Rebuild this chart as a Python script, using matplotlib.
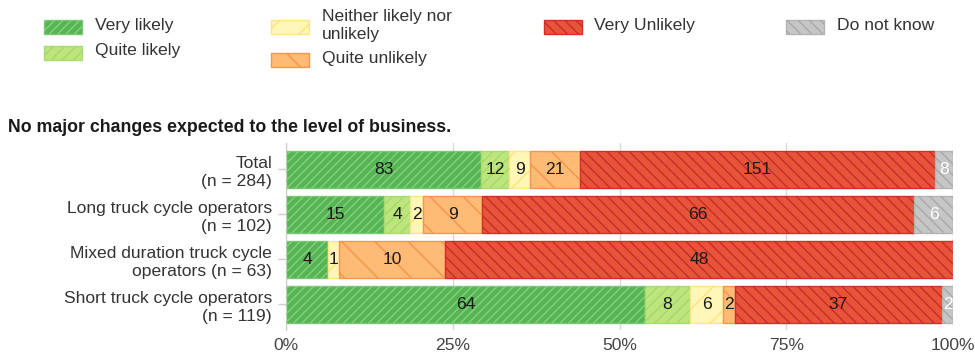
import matplotlib.pyplot as plt
from matplotlib.patches import Rectangle
import numpy as np

plt.rcParams['font.family'] = ['Liberation Sans', 'DejaVu Sans']
plt.rcParams['hatch.linewidth'] = 1.0

W, H = 975, 356

grupos = ['Total\n(n = 284)',
          'Long truck cycle operators\n(n = 102)',
          'Mixed duration truck cycle\noperators (n = 63)',
          'Short truck cycle operators\n(n = 119)']

respuestas = ['Very likely', 'Quite likely', 'Neither likely nor\nunlikely',
              'Quite unlikely', 'Very Unlikely', 'Do not know']

muy_probable = [83, 15, 4, 64]
bastante_probable = [12, 4, 0, 8]
ni_uno_ni_otro = [9, 2, 1, 6]
poco_probable = [21, 9, 10, 2]
muy_improbable = [151, 66, 48, 37]
no_sabe = [8, 6, 0, 2]

# relleno, borde, trama, patron, color de la etiqueta
estilos = [
    ('#55b552', '#79c775', '#86cf82', '////', '#1a1a1a'),
    ('#bde57e', '#a9dc6c', '#a5da6a', '///', '#1a1a1a'),
    ('#fff6b8', '#ffe58a', '#ffe27a', '/', '#1a1a1a'),
    ('#fdbb75', '#f99450', '#f8924a', '\\', '#1a1a1a'),
    ('#e8543a', '#d3302b', '#c92b29', '\\\\\\', '#1a1a1a'),
    ('#c6c6c6', '#b3b3b3', '#a9a9a9', '\\\\\\', '#ffffff'),
]

conteos = np.array([muy_probable, bastante_probable, ni_uno_ni_otro,
                    poco_probable, muy_improbable, no_sabe], dtype=float)
totales = conteos.sum(axis=0)
porcentajes = conteos / totales

TAM = 12.6

fig = plt.figure(figsize=(W / 100, H / 100), dpi=100)
ax = fig.add_axes([286 / W, 1 - 330 / H, (953.3 - 286) / W, (330 - 143) / H])

y = np.arange(len(grupos))
izquierda = np.zeros(len(grupos))
for i, (relleno, borde, trama, patron, color_txt) in enumerate(estilos):
    ancho = porcentajes[i]
    ax.barh(y, ancho, left=izquierda, height=0.82, color=relleno,
            edgecolor=borde, linewidth=1.0, zorder=2)
    ax.barh(y, ancho, left=izquierda, height=0.82, color='none',
            edgecolor=trama, hatch=patron, linewidth=0, zorder=3)
    for j in range(len(grupos)):
        if conteos[i, j] > 0:
            ax.text(izquierda[j] + ancho[j] / 2, y[j], f'{int(conteos[i, j])}',
                    ha='center', va='center', fontsize=TAM, color=color_txt,
                    zorder=4)
    izquierda += ancho

ax.set_xlim(0, 1)
ax.set_ylim(3.57, -0.585)
ax.set_yticks(y)
ax.set_yticklabels(grupos, fontsize=TAM, color='#333333', ha='right',
                   linespacing=1.25)
ax.set_xticks([0, 0.25, 0.5, 0.75, 1.0])
ax.set_xticklabels(['0%', '25%', '50%', '75%', '100%'], fontsize=TAM,
                   color='#444444')
ax.tick_params(axis='x', length=0, pad=6)
ax.tick_params(axis='y', length=6, color='#cccccc', width=1, pad=4)
ax.grid(axis='x', color='#d9d9d9', linewidth=1, zorder=0)
ax.set_axisbelow(True)
for lado in ['top', 'right', 'bottom']:
    ax.spines[lado].set_visible(False)
ax.spines['left'].set_color('#cccccc')

fig.text(8 / W, 1 - 128 / H, 'No major changes expected to the level of business.',
         fontsize=12.8, fontweight='bold', color='#1a1a1a', va='center', ha='left')

# leyenda dibujada a mano en coordenadas de figura
posiciones = [(44, 27), (44, 52.5), (271, 26.5), (271, 59.7), (543.5, 26.7), (786, 26.7)]
for (relleno, borde, trama, patron, _), nombre, (px, py) in zip(estilos, respuestas, posiciones):
    x0, y0 = px / W, 1 - (py + 7) / H
    w, h = 38 / W, 14 / H
    fig.add_artist(Rectangle((x0, y0), w, h, transform=fig.transFigure,
                             facecolor=relleno, edgecolor=borde, linewidth=1.0))
    fig.add_artist(Rectangle((x0, y0), w, h, transform=fig.transFigure,
                             facecolor='none', edgecolor=trama, hatch=patron,
                             linewidth=0))
    fig.text((px + 51) / W, 1 - (py - 1.5) / H, nombre, fontsize=TAM,
             color='#333333', va='center', ha='left', linespacing=1.25)

fig.savefig('out.png', dpi=100)
